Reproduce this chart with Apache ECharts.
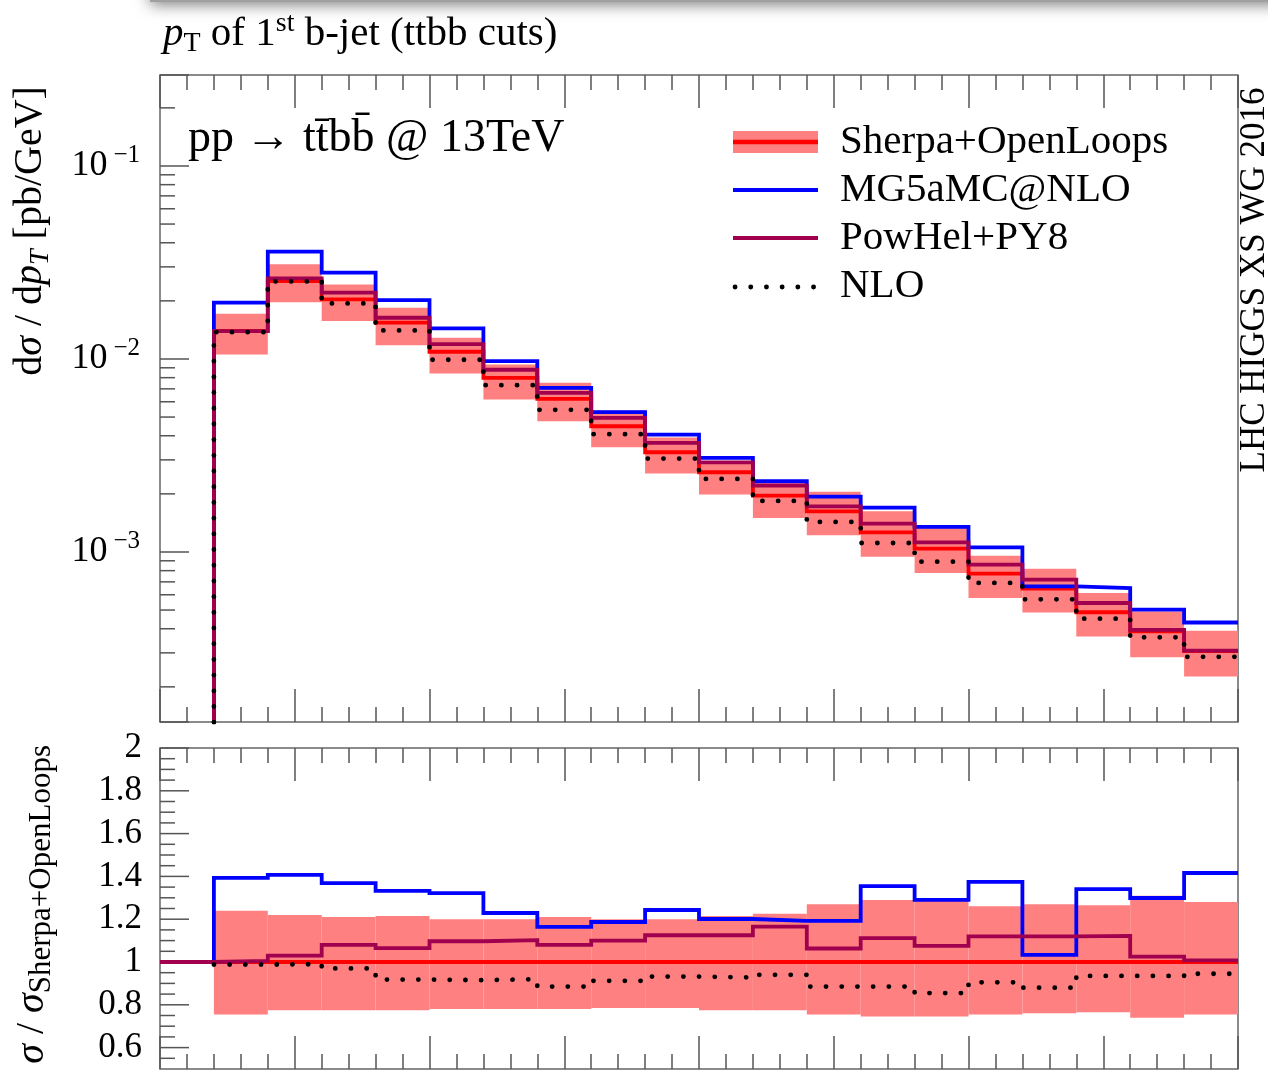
<!DOCTYPE html>
<html><head><meta charset="utf-8">
<script src="https://cdn.jsdelivr.net/npm/echarts@6/dist/echarts.min.js"></script>
<style>html,body{margin:0;padding:0;background:#fff}#c{width:1268px;height:1070px}</style>
</head><body><div id="c"></div>
<script>
// ---------------- data ----------------
// bin edges in GeV (20 bins of 20 GeV)
const binEdges = [0,20,40,60,80,100,120,140,160,180,200,220,240,260,280,300,320,340,360,380,400];
// dσ/dpT [pb/GeV] per bin (first bin empty)
const sherpa     = [0, 0.01397, 0.02532, 0.02035, 0.01541, 0.01090, 0.007987, 0.006216, 0.004481, 0.003285, 0.002588, 0.001959, 0.001624, 0.001264, 0.001040, 0.000772, 0.000645, 0.000487, 0.000388, 0.000306];
const sherpaUp   = [0, 0.01716, 0.03091, 0.02434, 0.01843, 0.01288, 0.009365, 0.00752, 0.00540, 0.003916, 0.002951, 0.002288, 0.002048, 0.001624, 0.001329, 0.000957, 0.000819, 0.000613, 0.000492, 0.000391];
const sherpaDown = [0, 0.01055, 0.01970, 0.01571, 0.01179, 0.008410, 0.006163, 0.004759, 0.003487, 0.002547, 0.001982, 0.001501, 0.001220, 0.000943, 0.000778, 0.000577, 0.000486, 0.000365, 0.000285, 0.000226];
const mg5        = [0, 0.01956, 0.03597, 0.02800, 0.02018, 0.01439, 0.009741, 0.007090, 0.005297, 0.004059, 0.003074, 0.002324, 0.001935, 0.001698, 0.001348, 0.001056, 0.000663, 0.000649, 0.000502, 0.000431];
const powhel     = [0, 0.01394, 0.02615, 0.02205, 0.01635, 0.01193, 0.008790, 0.006677, 0.004955, 0.003675, 0.002915, 0.002207, 0.001724, 0.001402, 0.001121, 0.000859, 0.000718, 0.000544, 0.000395, 0.000308];
const nlo        = [0, 0.01377, 0.02523, 0.01940, 0.01405, 0.009906, 0.007313, 0.005451, 0.004074, 0.003048, 0.002391, 0.001839, 0.001431, 0.001113, 0.000891, 0.000691, 0.000568, 0.000451, 0.000361, 0.000286];
// ratio panel (σ / σ Sherpa+OpenLoops)
const ratioSherpa   = [1,1,1,1,1,1,1,1,1,1,1,1,1,1,1,1,1,1,1,1];
const ratioBandUp   = [null, 1.24, 1.22, 1.21, 1.215, 1.20, 1.20, 1.21, 1.20, 1.20, 1.215, 1.225, 1.27, 1.29, 1.285, 1.26, 1.27, 1.265, 1.31, 1.28];
const ratioBandDown = [null, 0.755, 0.775, 0.775, 0.775, 0.78, 0.78, 0.78, 0.785, 0.785, 0.775, 0.775, 0.755, 0.745, 0.745, 0.755, 0.76, 0.765, 0.74, 0.755];
const ratioMG5      = [1, 1.393, 1.407, 1.369, 1.332, 1.322, 1.229, 1.164, 1.187, 1.243, 1.201, 1.192, 1.192, 1.355, 1.290, 1.374, 1.033, 1.341, 1.299, 1.416];
const ratioPow      = [1, 1.005, 1.03, 1.08, 1.065, 1.097, 1.102, 1.08, 1.10, 1.125, 1.125, 1.165, 1.063, 1.112, 1.075, 1.12, 1.12, 1.122, 1.025, 1.008];
const ratioNLO      = [null, 0.988, 0.99, 0.97, 0.918, 0.915, 0.92, 0.885, 0.912, 0.932, 0.928, 0.94, 0.885, 0.885, 0.855, 0.905, 0.88, 0.935, 0.935, 0.945];
// ticks
const logMinorTicks = [2e-4,3e-4,4e-4,5e-4,6e-4,7e-4,8e-4,9e-4,2e-3,3e-3,4e-3,5e-3,6e-3,7e-3,8e-3,9e-3,2e-2,3e-2,4e-2,5e-2,6e-2,7e-2,8e-2,9e-2,2e-1];
const ratioMajorTicks = [0.6,0.8,1.0,1.2,1.4,1.6,1.8,2.0];
const ratioMinorTicks = [0.55,0.65,0.7,0.75,0.85,0.9,0.95,1.05,1.1,1.15,1.25,1.3,1.35,1.45,1.5,1.55,1.65,1.7,1.75,1.85,1.9,1.95];
const legendLabels = ['Sherpa+OpenLoops','MG5aMC@NLO','PowHel+PY8','NLO'];

// ---------------- style ----------------
const FONT = "'Liberation Serif','DejaVu Serif',serif";
const RED = '#ff0000', BLUE = '#0000ff', PURPLE = '#a0004e', BAND = '#ff8080', TICK = '#555';
const Y_MIN = 1.315e-4, Y_MAX = 0.296;
const FLOOR = Y_MIN / 100;
const LW = 3.8;

function stepPoints(vals, floor) {
  const pts = []; let last = null;
  for (let i = 0; i < vals.length; i++) {
    const v = vals[i];
    if (v === null) continue;
    const y = (v > 0) ? v : floor;
    pts.push([binEdges[i], y]); last = y;
  }
  pts.push([binEdges[binEdges.length - 1], last]);
  return pts;
}
function bandData(up, down) {
  const out = [];
  for (let i = 0; i < up.length; i++) if (up[i] && up[i] > 0) out.push([binEdges[i], binEdges[i+1], up[i], down[i]]);
  return out;
}
function renderBand(params, api) {
  const p1 = api.coord([api.value(0), api.value(2)]);
  const p2 = api.coord([api.value(1), api.value(3)]);
  return {type:'rect', shape:{x:p1[0], y:p1[1], width:p2[0]-p1[0], height:p2[1]-p1[1]}, style:{fill:BAND}};
}
function renderYTick(params, api) {
  const p = api.coord([0, api.value(1)]);
  return {type:'line', shape:{x1:p[0], y1:p[1], x2:p[0]+api.value(2), y2:p[1]}, style:{stroke:TICK, lineWidth:1.5}};
}
function stepLine(name, pts, color, xi, yi, extra) {
  return Object.assign({type:'line', name, xAxisIndex:xi, yAxisIndex:yi, data:pts, step:'end', showSymbol:false, symbol:'none',
    clip:true, lineStyle:{color, width:LW, join:'miter'}, silent:true, z:3}, extra || {});
}
const dotStyle = {color:'#000', width:4.8, type:[0.1, 15.6], cap:'round'};

function xAxisDef(gi, pos) {
  return {type:'value', gridIndex:gi, position:pos, min:0, max:400, interval:50,
    axisLine:{show:false}, splitLine:{show:false}, axisLabel:{show:false},
    axisTick:{show:true, inside:true, length:33, lineStyle:{color:TICK, width:1.5}},
    minorTick:{show:true, splitNumber:5, length:15, lineStyle:{color:TICK, width:1.5}}};
}

const option = {
  animation:false,
  backgroundColor:'#fff',
  grid:[
    {left:160, top:75, width:1078, height:647, show:true, borderColor:'#666', borderWidth:1.5, backgroundColor:'transparent'},
    {left:160, top:748, width:1078, height:321, show:true, borderColor:'#666', borderWidth:1.5, backgroundColor:'transparent'}
  ],
  xAxis:[xAxisDef(0,'bottom'), xAxisDef(0,'top'), xAxisDef(1,'top'), xAxisDef(1,'bottom')],
  yAxis:[
    {type:'log', logBase:10, gridIndex:0, min:Y_MIN, max:Y_MAX,
     axisLine:{show:false}, splitLine:{show:false}, minorTick:{show:false},
     axisTick:{show:true, inside:true, length:29, lineStyle:{color:TICK, width:1.5}},
     axisLabel:{margin:20, color:'#000', fontFamily:FONT,
       formatter:function(v){ const e = Math.log10(v); const r = Math.round(e); if (Math.abs(e-r) > 1e-6) return ''; return '{b|10}{s|\u2212' + (-r) + '}'; },
       rich:{b:{fontFamily:FONT, fontSize:36, lineHeight:46, color:'#000'},
             s:{fontFamily:FONT, fontSize:25, lineHeight:26, verticalAlign:'top', padding:[0,0,0,6], color:'#000'}}}},
    {type:'value', gridIndex:1, min:0.5, max:2, interval:0.1,
     axisLine:{show:false}, splitLine:{show:false}, axisTick:{show:false},
     axisLabel:{margin:18, color:'#000', fontFamily:FONT, fontSize:35,
       formatter:function(v){ const r = Math.round(v*10); if (r % 2) return ''; return String(r/10); }}}
  ],
  series:[
    {type:'custom', name:'bandTop', xAxisIndex:0, yAxisIndex:0, data:bandData(sherpaUp, sherpaDown), encode:{x:[0,1], y:[2,3]}, renderItem:renderBand, clip:true, silent:true, z:2},
    stepLine('Sherpa+OpenLoops', stepPoints(sherpa, FLOOR), RED, 0, 0),
    stepLine('MG5aMC@NLO', stepPoints(mg5, FLOOR), BLUE, 0, 0),
    stepLine('PowHel+PY8', stepPoints(powhel, FLOOR), PURPLE, 0, 0),
    stepLine('NLO', stepPoints(nlo, FLOOR), '#000', 0, 0, {lineStyle:dotStyle}),
    {type:'custom', name:'bandRatio', xAxisIndex:3, yAxisIndex:1, data:bandData(ratioBandUp, ratioBandDown), encode:{x:[0,1], y:[2,3]}, renderItem:renderBand, clip:true, silent:true, z:2},
    stepLine('rSherpa', stepPoints(ratioSherpa), RED, 3, 1),
    stepLine('rMG5', stepPoints(ratioMG5), BLUE, 3, 1),
    stepLine('rPow', stepPoints(ratioPow), PURPLE, 3, 1),
    stepLine('rNLO', stepPoints(ratioNLO), '#000', 3, 1, {lineStyle:dotStyle}),
    {type:'custom', name:'logMinor', xAxisIndex:0, yAxisIndex:0, data:logMinorTicks.map(v=>[0,v,15]), encode:{x:0,y:1}, renderItem:renderYTick, clip:false, silent:true, z:1},
    {type:'custom', name:'ratioTicks', xAxisIndex:3, yAxisIndex:1,
     data:ratioMajorTicks.map(v=>[0,v,29]).concat(ratioMinorTicks.map(v=>[0,v,15])), encode:{x:0,y:1}, renderItem:renderYTick, clip:false, silent:true, z:1}
  ],
  graphic:[
    // page shadow strip at the very top
    {type:'rect', z:0, shape:{x:150, y:-40, width:1200, height:42}, style:{fill:'#a0a0a0', shadowBlur:16, shadowColor:'rgba(0,0,0,0.55)', shadowOffsetY:2}},
    // title
    {type:'text', x:163, y:34, style:{text:'{i|p}{sub|T} of 1{sup|st} b-jet (ttbb cuts)', fontFamily:FONT, fontSize:41, lineHeight:48, fill:'#000', align:'left', verticalAlign:'middle',
      rich:{i:{fontFamily:FONT, fontStyle:'italic', fontSize:41, lineHeight:48}, sub:{fontFamily:FONT, fontSize:28, lineHeight:34, verticalAlign:'bottom'}, sup:{fontFamily:FONT, fontSize:28, lineHeight:28, verticalAlign:'top'}}}},
    // process label
    {type:'text', x:188, y:139, style:{text:'pp \u2192 tt\u0304bb\u0304 @ 13TeV', fontFamily:FONT, fontSize:46, fill:'#000', align:'left', verticalAlign:'middle'}},
    // y titles
    {type:'text', x:30, y:231, rotation:Math.PI/2, style:{text:'d{i|\u03c3} / d{i|p}{sub|T} [pb/GeV]', fontFamily:FONT, fontSize:40, lineHeight:50, fill:'#000', align:'center', verticalAlign:'middle',
      rich:{i:{fontFamily:FONT, fontStyle:'italic', fontSize:40, lineHeight:50}, sub:{fontFamily:FONT, fontStyle:'italic', fontSize:28, lineHeight:34, verticalAlign:'bottom'}}}},
    {type:'text', x:32, y:745, rotation:Math.PI/2, style:{text:'{i|\u03c3} / {i|\u03c3}{sub|Sherpa+OpenLoops}', fontFamily:FONT, fontSize:40, lineHeight:50, fill:'#000', align:'right', verticalAlign:'middle',
      rich:{i:{fontFamily:FONT, fontStyle:'italic', fontSize:40, lineHeight:50}, sub:{fontFamily:FONT, fontSize:31, lineHeight:34, verticalAlign:'bottom'}}}},
    // right label
    {type:'text', x:1255, y:280, rotation:Math.PI/2, style:{text:'LHC HIGGS XS WG 2016', fontFamily:FONT, fontSize:35, fill:'#000', align:'center', verticalAlign:'middle'}},
    // legend
    {type:'rect', shape:{x:733, y:131, width:85, height:22}, style:{fill:BAND}},
    {type:'line', shape:{x1:733, y1:142, x2:818, y2:142}, style:{stroke:RED, lineWidth:4.5}},
    {type:'line', shape:{x1:733, y1:190, x2:818, y2:190}, style:{stroke:BLUE, lineWidth:4}},
    {type:'line', shape:{x1:733, y1:238, x2:818, y2:238}, style:{stroke:PURPLE, lineWidth:4}},
    {type:'line', shape:{x1:735, y1:287, x2:818, y2:287}, style:{stroke:'#000', lineWidth:4.8, lineDash:[0.1, 15.6], lineCap:'round'}},
    {type:'text', x:840, y:142, style:{text:legendLabels[0], fontFamily:FONT, fontSize:41, fill:'#000', align:'left', verticalAlign:'middle'}},
    {type:'text', x:840, y:190, style:{text:legendLabels[1], fontFamily:FONT, fontSize:41, fill:'#000', align:'left', verticalAlign:'middle'}},
    {type:'text', x:840, y:238, style:{text:legendLabels[2], fontFamily:FONT, fontSize:41, fill:'#000', align:'left', verticalAlign:'middle'}},
    {type:'text', x:840, y:286, style:{text:legendLabels[3], fontFamily:FONT, fontSize:41, fill:'#000', align:'left', verticalAlign:'middle'}}
  ]
};
const chart = echarts.init(document.getElementById('c'), null, {renderer:'canvas', width:1268, height:1070});
chart.setOption(option);
</script></body></html>
